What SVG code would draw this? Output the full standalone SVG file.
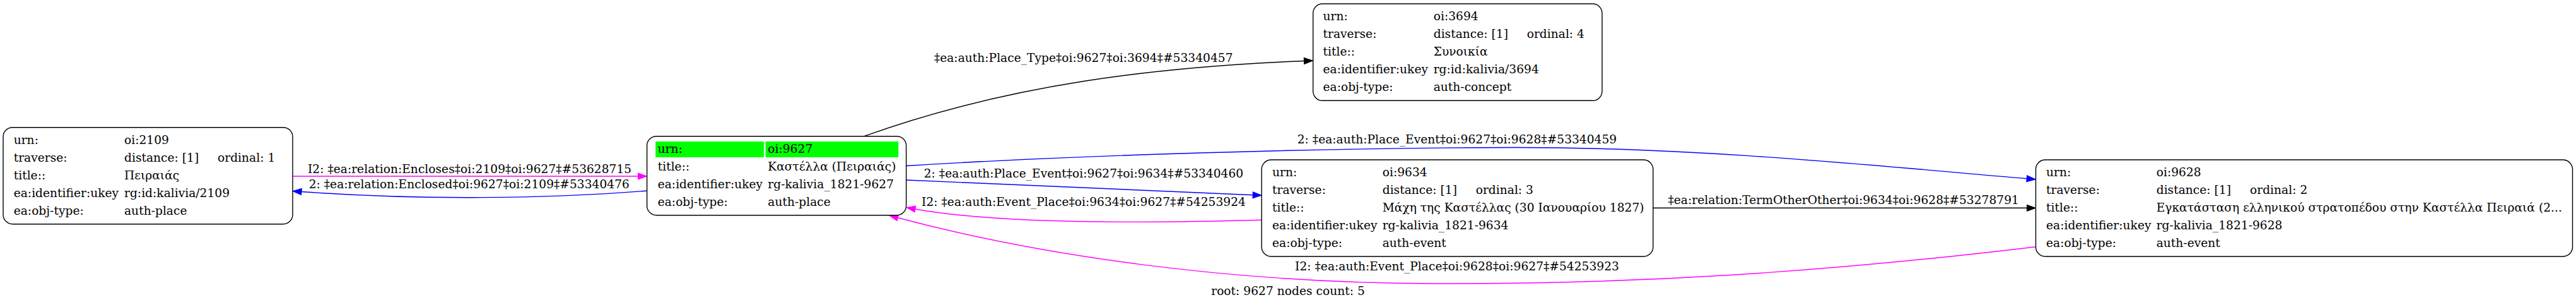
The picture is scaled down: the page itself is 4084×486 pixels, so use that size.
<svg xmlns="http://www.w3.org/2000/svg" width="4084" height="486" viewBox="0 0 4084 486">
<style>
text{font-family:"DejaVu Serif","Liberation Serif",serif;font-size:18.67px;fill:#000}
.lbl{text-anchor:middle}
.box{fill:#fff;stroke:#000;stroke-width:1.4}
.cell{fill:#00ff00;stroke:none}
.e{fill:none;stroke-width:1.4}
.k{stroke:#000}
.b{stroke:#0000ff}
.m{stroke:#ff00ff}
</style>
<defs>
<marker id="ak" markerUnits="userSpaceOnUse" markerWidth="15" markerHeight="11" refX="0" refY="5" orient="auto" overflow="visible"><path d="M0,0 L14,5 L0,10 z" fill="#000" stroke="#000" stroke-width="1"/></marker>
<marker id="ab" markerUnits="userSpaceOnUse" markerWidth="15" markerHeight="11" refX="0" refY="5" orient="auto" overflow="visible"><path d="M0,0 L14,5 L0,10 z" fill="#0000ff" stroke="#0000ff" stroke-width="1"/></marker>
<marker id="am" markerUnits="userSpaceOnUse" markerWidth="15" markerHeight="11" refX="0" refY="5" orient="auto" overflow="visible"><path d="M0,0 L14,5 L0,10 z" fill="#ff00ff" stroke="#ff00ff" stroke-width="1"/></marker>
</defs>
<rect width="4084" height="486" fill="#fff"/>

<g id="connectors">
  <path class="e m" d="M464,279 L1011.7,279" marker-end="url(#am)"/>
  <text class="lbl" x="744.6" y="274">I2: ‡ea:relation:Encloses‡oi:2109‡oi:9627‡#53628715</text>
  <path class="e b" d="M1025.7,302 C850,316 650,316 478,303.5" marker-end="url(#ab)"/>
  <text class="lbl" x="743.8" y="298.3">2: ‡ea:relation:Enclosed‡oi:9627‡oi:2109‡#53340476</text>
  <path class="e k" d="M1370,215.7 C1600,133 1837,105.7 2067.5,96.5" marker-end="url(#ak)"/>
  <text class="lbl" x="1717.7" y="98.3">‡ea:auth:Place_Type‡oi:9627‡oi:3694‡#53340457</text>
  <path class="e b" d="M1437,262.5 C1700,246 2100,234 2400,233.5 C2700,233 3000,265 3213.2,282.8" marker-end="url(#ab)"/>
  <text class="lbl" x="2310" y="227">2: ‡ea:auth:Place_Event‡oi:9627‡oi:9628‡#53340459</text>
  <path class="e b" d="M1437,285 L1986.2,308.7" marker-end="url(#ab)"/>
  <text class="lbl" x="1718" y="280.7">2: ‡ea:auth:Place_Event‡oi:9627‡oi:9634‡#53340460</text>
  <path class="e m" d="M2000.2,348.3 C1800,354 1580,354 1451,331" marker-end="url(#am)"/>
  <text class="lbl" x="1718" y="326">I2: ‡ea:auth:Event_Place‡oi:9634‡oi:9627‡#54253924</text>
  <path class="e k" d="M2620.8,329.3 L3213.5,329.3" marker-end="url(#ak)"/>
  <text class="lbl" x="2922.7" y="322.7">‡ea:relation:TermOtherOther‡oi:9634‡oi:9628‡#53278791</text>
  <path class="e m" d="M3227.5,390.7 C2900,430 2600,450 2275,449 C1950,448 1650,405 1423.4,344.7" marker-end="url(#am)"/>
  <text class="lbl" x="2310" y="427.7">I2: ‡ea:auth:Event_Place‡oi:9628‡oi:9627‡#54253923</text>
</g>

<g id="node-2109">
  <rect class="box" x="5" y="201.7" width="459" height="153" rx="15"/>
  <text x="21.7" y="228">urn:</text><text x="197" y="228">oi:2109</text>
  <text x="21.7" y="256">traverse:</text><text x="197" y="256">distance: [1]</text><text x="345" y="256">ordinal: 1</text>
  <text x="21.7" y="284">title::</text><text x="197" y="284">Πειραιάς</text>
  <text x="21.7" y="312">ea:identifier:ukey</text><text x="197" y="312">rg:id:kalivia/2109</text>
  <text x="21.7" y="340">ea:obj-type:</text><text x="197" y="340">auth-place</text>
</g>

<g id="node-9627">
  <rect class="box" x="1025.7" y="215.7" width="411" height="125" rx="15"/>
  <rect class="cell" x="1039.3" y="224" width="171.7" height="25"/>
  <rect class="cell" x="1213.7" y="224" width="210.6" height="25"/>
  <text x="1042.7" y="241.7">urn:</text><text x="1217.3" y="241.7">oi:9627</text>
  <text x="1042.7" y="269.7">title::</text><text x="1217.3" y="269.7">Καστέλλα (Πειραιάς)</text>
  <text x="1042.7" y="297.7">ea:identifier:ukey</text><text x="1217.3" y="297.7">rg-kalivia_1821-9627</text>
  <text x="1042.7" y="325.7">ea:obj-type:</text><text x="1217.3" y="325.7">auth-place</text>
</g>

<g id="node-3694">
  <rect class="box" x="2081.7" y="6" width="458.3" height="153.3" rx="15"/>
  <text x="2097.5" y="32">urn:</text><text x="2272.7" y="32">oi:3694</text>
  <text x="2097.5" y="60">traverse:</text><text x="2272.7" y="60">distance: [1]</text><text x="2420.7" y="60">ordinal: 4</text>
  <text x="2097.5" y="88">title::</text><text x="2272.7" y="88">Συνοικία</text>
  <text x="2097.5" y="116">ea:identifier:ukey</text><text x="2272.7" y="116">rg:id:kalivia/3694</text>
  <text x="2097.5" y="144">ea:obj-type:</text><text x="2272.7" y="144">auth-concept</text>
</g>

<g id="node-9634">
  <rect class="box" x="2000.2" y="253" width="620.6" height="153" rx="15"/>
  <text x="2017" y="279">urn:</text><text x="2191.7" y="279">oi:9634</text>
  <text x="2017" y="307">traverse:</text><text x="2191.7" y="307">distance: [1]</text><text x="2339.7" y="307">ordinal: 3</text>
  <text x="2017" y="335">title::</text><text x="2191.7" y="335">Μάχη της Καστέλλας (30 Ιανουαρίου 1827)</text>
  <text x="2017" y="363">ea:identifier:ukey</text><text x="2191.7" y="363">rg-kalivia_1821-9634</text>
  <text x="2017" y="391">ea:obj-type:</text><text x="2191.7" y="391">auth-event</text>
</g>

<g id="node-9628">
  <rect class="box" x="3227.5" y="253" width="851" height="153" rx="15"/>
  <text x="3244" y="279">urn:</text><text x="3418.7" y="279">oi:9628</text>
  <text x="3244" y="307">traverse:</text><text x="3418.7" y="307">distance: [1]</text><text x="3567" y="307">ordinal: 2</text>
  <text x="3244" y="335">title::</text><text x="3418.7" y="335">Εγκατάσταση ελληνικού στρατοπέδου στην Καστέλλα Πειραιά (2...</text>
  <text x="3244" y="363">ea:identifier:ukey</text><text x="3418.7" y="363">rg-kalivia_1821-9628</text>
  <text x="3244" y="391">ea:obj-type:</text><text x="3418.7" y="391">auth-event</text>
</g>

<text class="lbl" x="2042" y="467">root: 9627 nodes count: 5</text>
</svg>
